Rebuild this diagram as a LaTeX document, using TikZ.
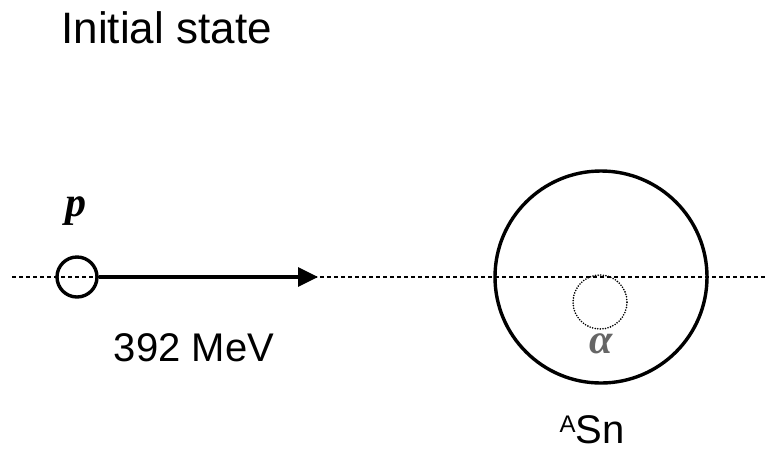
\documentclass[tikz,border=0pt]{standalone}
\usepackage{fontspec}
\setmainfont{Liberation Sans}
\newfontfamily\symfont{Liberation Serif}
\usetikzlibrary{arrows.meta}
\begin{document}
\begin{tikzpicture}[x=1pt,y=-1pt,
  axisline/.style={line width=1.8pt, dash pattern=on 4pt off 3pt},
  particle/.style={circle, draw, line width=3.4pt, inner sep=0pt},
  cluster/.style={circle, draw, line width=1.8pt, dash pattern=on 0pt off 2.6pt, line cap=round, inner sep=0pt},
  labeltext/.style={font=\fontsize{40}{44}\selectfont},
  sym/.style={font=\symfont\bfseries\itshape\fontsize{42}{46}\selectfont}]
  \useasboundingbox (0,0) rectangle (767,451);
  % beam axis
  \coordinate (axl) at (12,277);
  \coordinate (axr) at (767,277);
  \draw[axisline] (axl) -- (axr);
  % title
  \node[font=\fontsize{44}{48}\selectfont, anchor=west] (title) at (58,28) {Initial state};
  % projectile
  \node[particle, minimum size=40pt] (p) at (77,277) {};
  \node[sym] (plabel) at (76,211) {p};
  \coordinate (tip) at (318,277);
  \draw[line width=3.4pt, -{Triangle[length=20pt,width=19pt]}] (p.east) -- (tip);
  \node[labeltext] (energy) at (194,348) {392 MeV};
  % target nucleus
  \node[particle, minimum size=212pt] (sn) at (601,277) {};
  \node[cluster, minimum size=54pt] (alpha) at (600,302) {};
  \node[sym, text=black!60] (alabel) at (601,344) {α};
  \node[labeltext] (snlabel) at (592,430) {\raisebox{0.55ex}{\fontsize{24}{26}\selectfont A}Sn};
\end{tikzpicture}
\end{document}
